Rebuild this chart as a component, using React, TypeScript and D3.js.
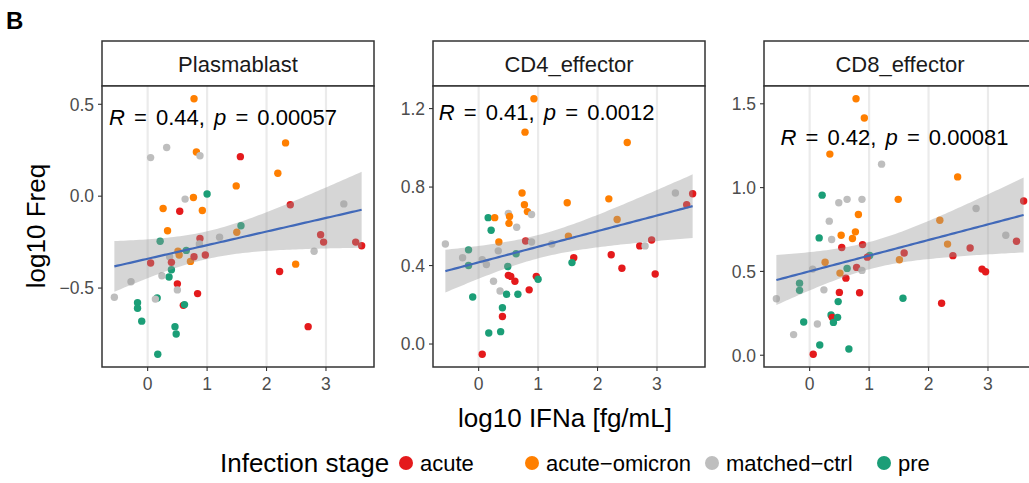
import React from "react";
import * as d3 from "d3";

// ---------- data ----------
const stageNames = ["acute", "acute−omicron", "matched−ctrl", "pre"];
const stageCodes = ["a", "o", "m", "p"];
const stageColors = ["#E41A1C", "#FF7F00", "#BEBEBE", "#1B9E77"];

const panelNames = ["Plasmablast", "CD4_effector", "CD8_effector"];
const corR = ["0.44", "0.41", "0.42"];
const corP = ["0.00057", "0.0012", "0.00081"];

const xTicks = [0, 1, 2, 3];
const yTicksPlasmablast = [-0.5, 0, 0.5];
const yTicksCD4 = [0, 0.4, 0.8, 1.2];
const yTicksCD8 = [0, 0.5, 1.0, 1.5];

const plasmablastX = [0.78, 0.05, 0.32, 0.82, 0.88, 1.56, 1.49, 1.0, 0.63, 0.77, 0.26, 0.54, 0.92, 2.32, 2.19, 2.4, 3.3, 0.335, 0.21, 0.88, 0.87, 1.21, 1.5, 1.57, 0.65, 0.51, 0.53, 0.37, 0.4, 0.72, 0.78, 0.97, 0.05, 0.4, 0.36, 0.24, -0.28, 0.5, 0.5, 0.84, -0.56, 0.16, 0.13, 0.6, 0.62, -0.17, -0.17, -0.1, 0.46, 0.48, 0.17, 2.91, 2.96, 3.5, 3.6, 2.8, 2.49, 2.22, 2.7];
const plasmablastY = [0.53, 0.21, 0.265, 0.24, 0.22, 0.215, 0.056, 0.012, -0.016, -0.007, -0.067, -0.082, -0.078, 0.29, 0.125, -0.047, -0.042, -0.188, -0.245, -0.23, -0.26, -0.223, -0.196, -0.161, -0.295, -0.3, -0.32, -0.33, -0.36, -0.355, -0.33, -0.32, -0.364, -0.4, -0.44, -0.433, -0.466, -0.477, -0.51, -0.53, -0.55, -0.554, -0.56, -0.594, -0.59, -0.58, -0.61, -0.68, -0.71, -0.75, -0.86, -0.21, -0.25, -0.25, -0.27, -0.3, -0.37, -0.41, -0.71];
const plasmablastStage = ["o", "m", "m", "o", "m", "a", "o", "p", "m", "o", "o", "a", "o", "o", "o", "a", "m", "o", "p", "a", "m", "m", "o", "p", "p", "o", "o", "m", "a", "o", "a", "a", "a", "p", "p", "m", "m", "a", "m", "a", "m", "p", "m", "a", "p", "p", "p", "p", "p", "p", "p", "a", "a", "a", "a", "m", "o", "a", "a"];

const cd4X = [0.93, 0.78, 0.73, 0.77, 0.82, 0.89, 1.49, 0.5, 0.16, 0.27, 0.52, 0.51, 0.64, 0.21, 0.34, 0.79, 0.89, 1.23, -0.56, -0.17, -0.27, -0.17, 0.06, 0.13, 0.33, 0.63, 0.49, 0.5, 0.54, 0.61, 0.97, 1.0, 0.25, 0.36, 0.47, 0.66, 0.85, -0.1, 0.4, 0.4, 0.17, 0.37, 0.06, 2.5, 2.19, 3.31, 3.6, 3.5, 2.33, 1.51, 1.6, 1.57, 2.23, 2.41, 2.71, 2.8, 2.91, 2.97];
const cd4Y = [1.25, 1.08, 0.77, 0.71, 0.675, 0.66, 0.72, 0.666, 0.644, 0.644, 0.65, 0.615, 0.595, 0.58, 0.52, 0.525, 0.52, 0.51, 0.51, 0.48, 0.44, 0.4, 0.43, 0.405, 0.475, 0.46, 0.395, 0.35, 0.345, 0.32, 0.345, 0.33, 0.32, 0.27, 0.254, 0.254, 0.276, 0.24, 0.185, 0.14, 0.056, 0.063, -0.052, 1.027, 0.74, 0.77, 0.766, 0.71, 0.635, 0.55, 0.44, 0.415, 0.455, 0.386, 0.5, 0.5, 0.53, 0.357];
const cd4Stage = ["o", "o", "o", "o", "o", "m", "o", "m", "p", "o", "o", "o", "m", "p", "o", "a", "m", "m", "m", "p", "m", "p", "m", "m", "m", "p", "p", "a", "a", "a", "a", "p", "m", "m", "p", "p", "a", "p", "p", "a", "p", "p", "a", "o", "o", "m", "a", "a", "o", "o", "a", "p", "a", "a", "a", "m", "a", "a"];

const cd8X = [0.78, 0.92, 0.34, 1.21, 0.21, 0.49, 0.63, 0.88, 1.49, 0.82, 0.33, 0.53, 0.77, 0.72, 0.16, 0.37, 0.54, 0.89, 1.01, 0.97, 0.26, 0.05, 0.63, 0.79, 0.88, 0.51, 0.61, -0.17, -0.17, 0.24, -0.56, 0.5, 0.84, 0.48, 0.36, 0.38, 0.47, 0.4, -0.1, 0.13, -0.27, 0.17, 0.66, 0.06, 2.49, 2.8, 3.6, 2.19, 3.3, 3.48, 2.32, 2.7, 2.41, 1.59, 1.51, 2.9, 2.96, 1.57, 2.22];
const cd8Y = [1.53, 1.415, 1.2, 1.14, 0.955, 0.91, 0.93, 0.93, 0.93, 0.84, 0.8, 0.716, 0.736, 0.696, 0.7, 0.69, 0.643, 0.66, 0.595, 0.585, 0.555, 0.514, 0.518, 0.524, 0.506, 0.49, 0.46, 0.43, 0.387, 0.39, 0.337, 0.375, 0.373, 0.32, 0.24, 0.226, 0.226, 0.196, 0.198, 0.186, 0.123, 0.061, 0.037, 0.006, 1.064, 0.875, 0.92, 0.805, 0.716, 0.68, 0.663, 0.64, 0.594, 0.61, 0.57, 0.514, 0.498, 0.34, 0.31];
const cd8Stage = ["o", "o", "o", "m", "p", "m", "m", "m", "o", "o", "m", "o", "o", "o", "p", "m", "a", "a", "p", "a", "o", "m", "p", "a", "m", "o", "a", "p", "p", "m", "m", "a", "a", "p", "p", "a", "p", "p", "p", "m", "m", "p", "p", "a", "o", "m", "a", "o", "m", "a", "o", "a", "a", "a", "o", "a", "a", "p", "a"];

const panelX = [plasmablastX, cd4X, cd8X];
const panelY = [plasmablastY, cd4Y, cd8Y];
const panelStage = [plasmablastStage, cd4Stage, cd8Stage];
const panelYTicks = [yTicksPlasmablast, yTicksCD4, yTicksCD8];

// ---------- layout ----------
const W = 1029;
const H = 483;
const panelLefts = [102, 433, 764];
const panelW = 272;
const stripTop = 41;
const stripH = 45;
const plotTop = stripTop + stripH;
const plotBottom = 367;
// correlation label anchor, in data units, per panel
const labelAnchor = [
  { x: -0.65, y: 0.386 },
  { x: -0.67, y: 1.14 },
  { x: -0.49, y: 1.256 },
];
const legendKeyX = [406, 532, 712, 884];
const FONT = "'Liberation Sans', Arial, Helvetica, sans-serif";

function expand(ext: [number, number]): [number, number] {
  const r = ext[1] - ext[0];
  return [ext[0] - 0.05 * r, ext[1] + 0.05 * r];
}

function fitLm(xs: number[], ys: number[], n = 80) {
  const N = xs.length;
  const mx = d3.mean(xs) as number;
  const my = d3.mean(ys) as number;
  let sxx = 0, sxy = 0;
  for (let i = 0; i < N; i++) {
    sxx += (xs[i] - mx) ** 2;
    sxy += (xs[i] - mx) * (ys[i] - my);
  }
  const b = sxy / sxx;
  const a = my - b * mx;
  let sse = 0;
  for (let i = 0; i < N; i++) sse += (ys[i] - a - b * xs[i]) ** 2;
  const s = Math.sqrt(sse / (N - 2));
  const df = N - 2;
  const z = 1.959964;
  const t = z + (z ** 3 + z) / (4 * df) + (5 * z ** 5 + 16 * z ** 3 + 3 * z) / (96 * df * df);
  const [x0, x1] = d3.extent(xs) as [number, number];
  return d3.range(n).map((i) => {
    const x = x0 + ((x1 - x0) * i) / (n - 1);
    const yh = a + b * x;
    const se = s * Math.sqrt(1 / N + (x - mx) ** 2 / sxx);
    return { x, y: yh, lo: yh - t * se, hi: yh + t * se };
  });
}

const fmtTick = (v: number) => {
  const s = v.toFixed(1);
  return v < 0 ? "−" + s.slice(1) : s;
};

export default function App() {
  const allX = panelX.flat();
  const xDomain = expand(d3.extent(allX) as [number, number]);

  return (
    <svg
      width={W}
      height={H}
      style={{ position: "absolute", left: 0, top: 0, background: "#fff" }}
      fontFamily={FONT}
    >
      <rect x={0} y={0} width={W} height={H} fill="#fff" />
      <text x={6} y={29} fontSize={24} fontWeight="bold" fill="#000">B</text>

      {panelNames.map((name, pi) => {
        const L = panelLefts[pi];
        const x = d3.scaleLinear().domain(xDomain).range([L, L + panelW]);
        const yDom = expand(d3.extent(panelY[pi]) as [number, number]);
        const y = d3.scaleLinear().domain(yDom).range([plotBottom, plotTop]);
        const fit = fitLm(panelX[pi], panelY[pi]);
        const area = d3
          .area<any>()
          .x((d) => x(d.x))
          .y0((d) => y(d.lo))
          .y1((d) => y(d.hi));
        const line = d3
          .line<any>()
          .x((d) => x(d.x))
          .y((d) => y(d.y));
        const la = labelAnchor[pi];
        return (
          <g key={name}>
            {/* strip */}
            <rect x={L} y={stripTop} width={panelW} height={stripH} fill="#fff" stroke="#333" strokeWidth={1.5} />
            <text x={L + panelW / 2} y={stripTop + stripH / 2 + 8} textAnchor="middle" fontSize={22} fill="#1a1a1a">
              {name}
            </text>
            {/* panel */}
            <rect x={L} y={plotTop} width={panelW} height={plotBottom - plotTop} fill="#fff" />
            {xTicks.map((t) => (
              <line key={"g" + t} x1={x(t)} x2={x(t)} y1={plotTop} y2={plotBottom} stroke="#EBEBEB" strokeWidth={2.2} />
            ))}
            {panelX[pi].map((xv, i) => (
              <circle
                key={"p" + i}
                cx={x(xv)}
                cy={y(panelY[pi][i])}
                r={3.7}
                fill={stageColors[stageCodes.indexOf(panelStage[pi][i])]}
              />
            ))}
            <path d={area(fit) as string} fill="#999999" fillOpacity={0.4} />
            <path d={line(fit) as string} fill="none" stroke="#4169B9" strokeWidth={2.2} />
            <text x={x(la.x)} y={y(la.y)} fontSize={22} fill="#000" wordSpacing={3} style={{ whiteSpace: "pre" }}>
              <tspan fontStyle="italic">R</tspan>
              {" = " + corR[pi] + ", "}
              <tspan fontStyle="italic">p</tspan>
              {" = " + corP[pi]}
            </text>
            <rect x={L} y={plotTop} width={panelW} height={plotBottom - plotTop} fill="none" stroke="#333" strokeWidth={1.5} />
            {/* y axis */}
            {panelYTicks[pi].map((t) => (
              <g key={"y" + t}>
                <line x1={L - 4} x2={L} y1={y(t)} y2={y(t)} stroke="#333" strokeWidth={1.1} />
                <text x={L - 8} y={y(t)} dy="0.36em" textAnchor="end" fontSize={17.5} fill="#4D4D4D">
                  {fmtTick(t)}
                </text>
              </g>
            ))}
            {/* x axis */}
            {xTicks.map((t) => (
              <g key={"x" + t}>
                <line x1={x(t)} x2={x(t)} y1={plotBottom} y2={plotBottom + 4} stroke="#333" strokeWidth={1.1} />
                <text x={x(t)} y={plotBottom + 23} textAnchor="middle" fontSize={17.5} fill="#4D4D4D">
                  {String(t)}
                </text>
              </g>
            ))}
          </g>
        );
      })}

      <text x={565} y={427} textAnchor="middle" fontSize={26} fill="#000">log10 IFNa [fg/mL]</text>
      <text transform={`translate(45,226) rotate(-90)`} textAnchor="middle" fontSize={26} fill="#000">log10 Freq</text>

      {/* legend */}
      <text x={220} y={472} fontSize={26} fill="#000">Infection stage</text>
      {stageNames.map((s, i) => (
        <g key={s}>
          <circle cx={legendKeyX[i]} cy={463} r={7} fill={stageColors[i]} />
          <text x={legendKeyX[i] + 14} y={471} fontSize={22} fill="#000">{s}</text>
        </g>
      ))}
    </svg>
  );
}
